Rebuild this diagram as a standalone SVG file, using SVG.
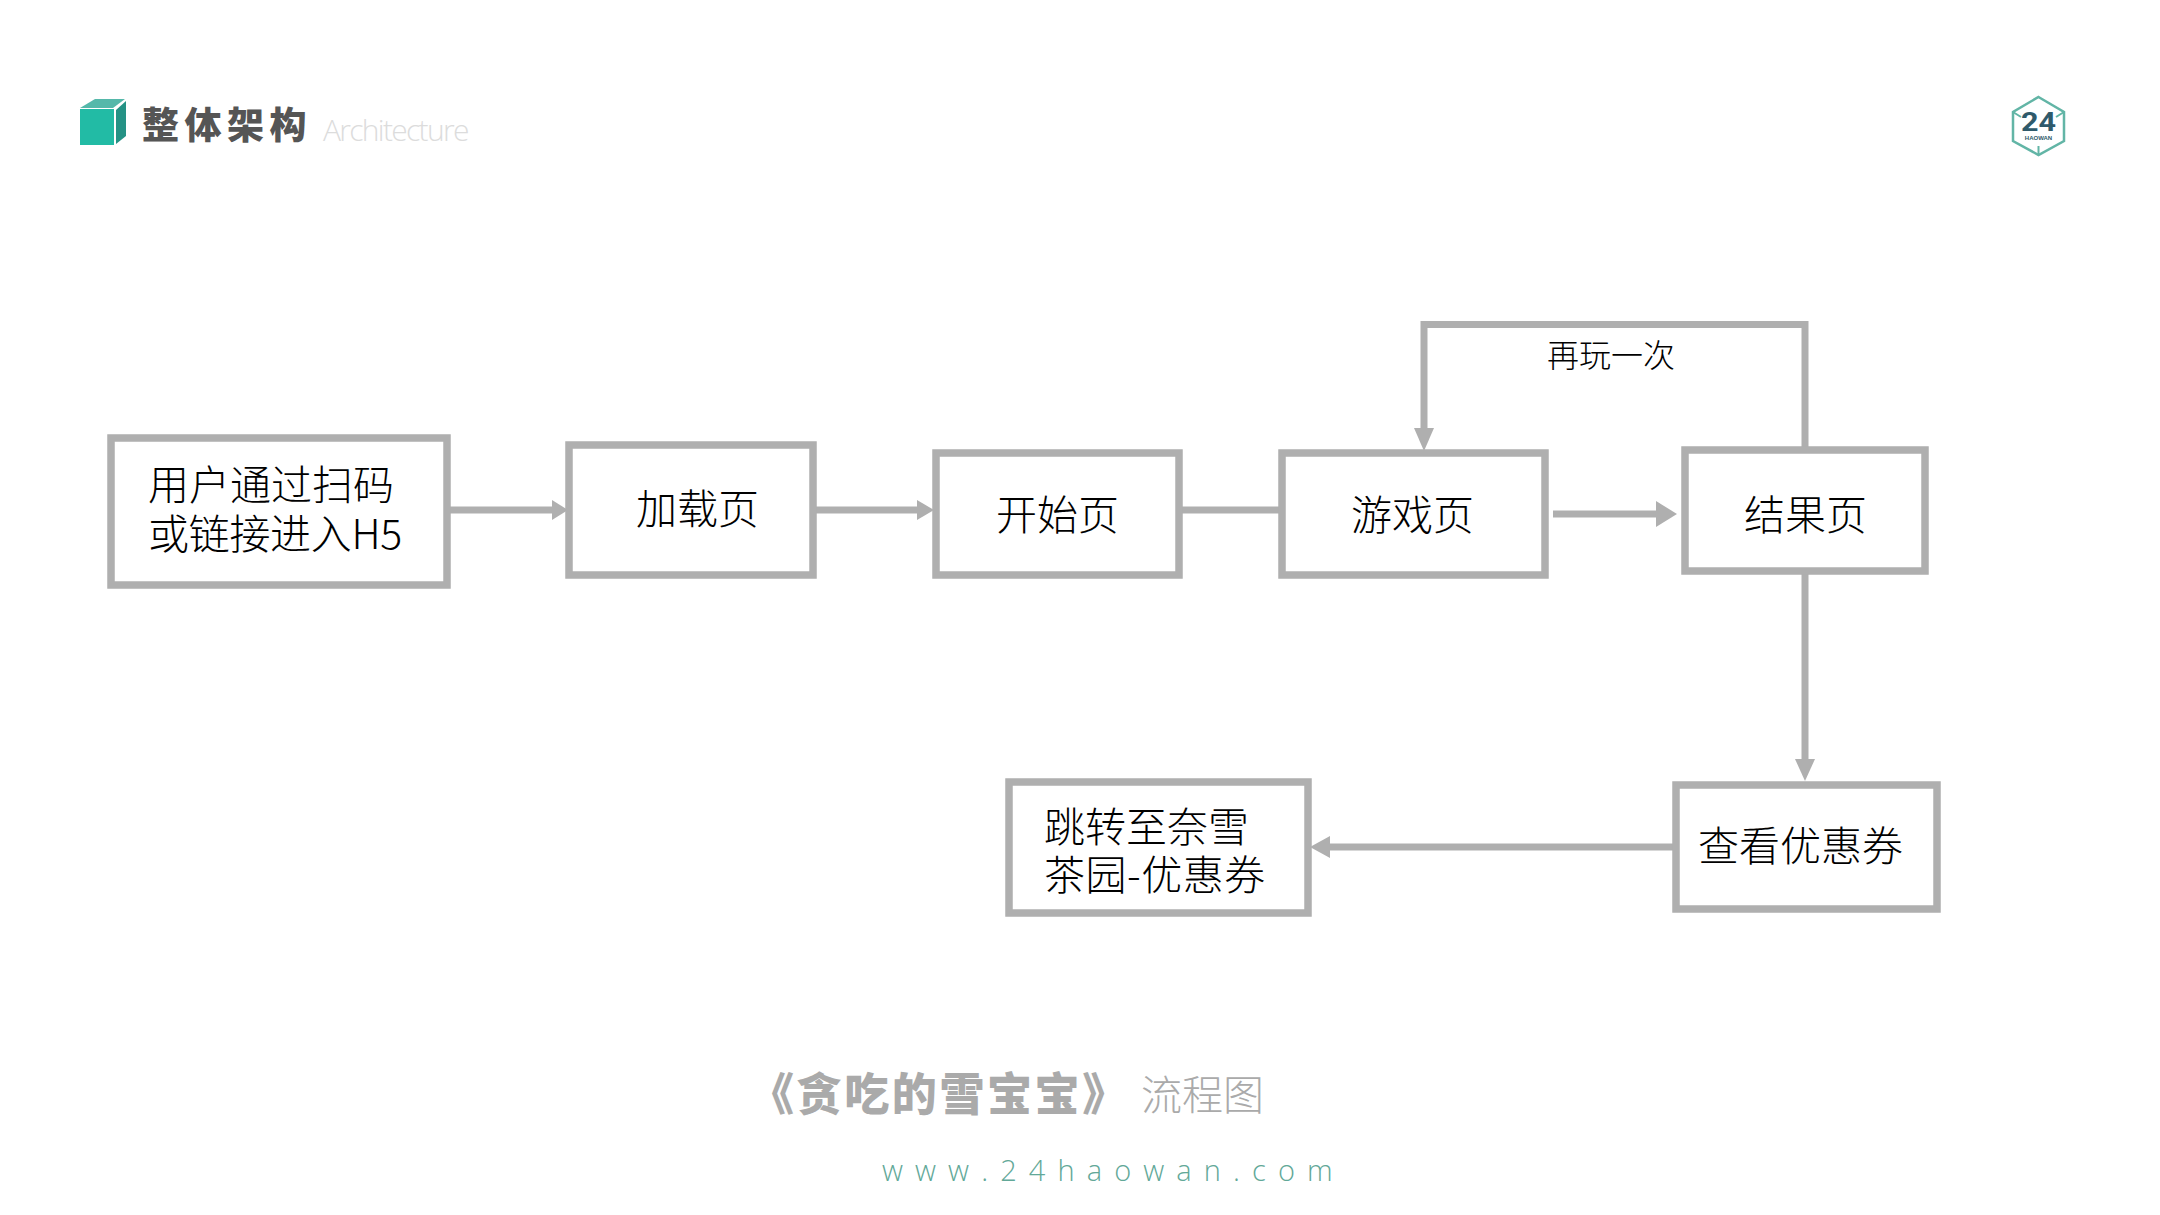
<svg xmlns="http://www.w3.org/2000/svg" width="2160" height="1215" viewBox="0 0 2160 1215">
<style>
.box{fill:#fff;stroke:#afafaf;stroke-width:7.5}
.ln{fill:none;stroke:#afafaf;stroke-width:7}
.hd{fill:#afafaf}
text{font-family:"Noto Sans CJK SC","Noto Sans",sans-serif}
.t{font-size:41px;fill:#000;font-weight:300}
</style>
<rect width="2160" height="1215" fill="#fff"/>
<g id="header">
<polygon points="80,108 95,99 125,99 113,108" fill="#55b8aa"/>
<polygon points="116,110 126,101 126,136 116,144" fill="#259285"/>
<rect x="80" y="109" width="34" height="36" fill="#22bba5"/>
<text x="142" y="139" font-size="37" font-weight="900" fill="#555" letter-spacing="5.500">整体架构</text>
<text x="323" y="141" font-size="30" fill="#dcdcdc" style="font-family:'Open Sans',sans-serif;font-weight:300" letter-spacing="-1.700">Architecture</text>
</g>
<g id="logo">
<polygon points="2038.500,97 2064,112 2064,141 2038.500,155 2013,141 2013,112" fill="none" stroke="#62b5a6" stroke-width="2.500"/>
<path d="M2013 112L2021 117M2064 112L2056 117M2038.500 155V146" fill="none" stroke="#62b5a6" stroke-width="2"/>
<text x="2021" y="131" font-size="25" font-weight="700" fill="#2f5a6b" textLength="35" lengthAdjust="spacingAndGlyphs" style="font-family:'Roboto',sans-serif">24</text>
<text x="2038.500" y="140" font-size="6" font-weight="700" fill="#2f5a6b" text-anchor="middle" style="font-family:'Liberation Sans',sans-serif">HAOWAN</text>
</g>
<g id="connectors">
<path class="ln" d="M449 510H558"/><polygon class="hd" points="568,510 552,500 552,520"/>
<path class="ln" d="M816 510H924"/><polygon class="hd" points="934,510 917,500 917,520"/>
<path class="ln" d="M1181 510H1280"/>
<path class="ln" d="M1553 514H1660"/><polygon class="hd" points="1677,514 1656,501 1656,527"/>
<path class="ln" d="M1805 448V324.500H1424V435"/><polygon class="hd" points="1424,451 1414,428 1434,428"/>
<path class="ln" d="M1805 573V765"/><polygon class="hd" points="1805,781 1795,759 1815,759"/>
<path class="ln" d="M1674 847H1325"/><polygon class="hd" points="1310,847 1330,836 1330,858"/>
</g>
<g id="n1"><rect class="box" x="111" y="438" width="336" height="147"/><text class="t" x="148" y="500">用户通过扫码</text><text class="t" x="148" y="549" letter-spacing="-0.300">或链接进入H5</text></g>
<g id="n2"><rect class="box" x="569" y="445" width="244" height="130"/><text class="t" x="636" y="524">加载页</text></g>
<g id="n3"><rect class="box" x="936" y="453" width="243" height="122"/><text class="t" x="996" y="530">开始页</text></g>
<g id="n4"><rect class="box" x="1282" y="453" width="263" height="122"/><text class="t" x="1351" y="530">游戏页</text></g>
<g id="n5"><rect class="box" x="1685" y="450" width="240" height="121"/><text class="t" x="1744" y="530">结果页</text></g>
<g id="n6"><rect class="box" x="1676" y="785" width="261" height="124"/><text class="t" x="1698" y="861">查看优惠券</text></g>
<g id="n7"><rect class="box" x="1009" y="782" width="299" height="131"/><text class="t" x="1044" y="842">跳转至奈雪</text><text class="t" x="1044" y="890" letter-spacing="0.500">茶园-优惠券</text></g>
<text x="1547" y="367" font-size="32" fill="#000" font-weight="300">再玩一次</text>
<g id="footer">
<text x="749" y="1111" font-size="45" font-weight="900" fill="#aaa" letter-spacing="2.600">《贪吃的雪宝宝》</text>
<text x="1141" y="1110" font-size="41" font-weight="300" fill="#aaa">流程图</text>
<text x="882" y="1181" font-size="29" fill="#62a898" letter-spacing="12.100" style="font-family:'Open Sans',sans-serif;font-weight:300">www.24haowan.com</text>
</g>
</svg>
